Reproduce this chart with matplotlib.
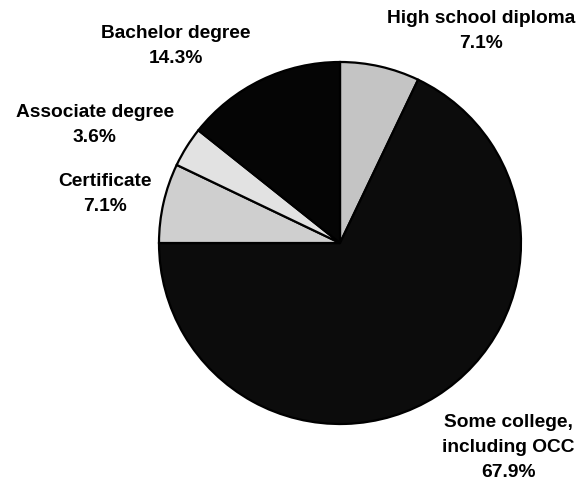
"""Pie chart: highest education level of respondents."""

import matplotlib

matplotlib.use("Agg")
import matplotlib.pyplot as plt

# ---------------------------------------------------------------------------
# Data
# ---------------------------------------------------------------------------
labels = [
    "High school diploma",
    "Some college,\nincluding OCC",
    "Certificate",
    "Associate degree",
    "Bachelor degree",
]
shares = [7.1, 67.9, 7.1, 3.6, 14.3]
colors = ["#c4c4c4", "#0c0c0c", "#cfcfcf", "#e2e2e2", "#050505"]

# label centres in pie-radius units
label_pos = [(0.78, 1.17), (0.93, -1.13), (-1.30, 0.27), (-1.355, 0.65), (-0.905, 1.09)]

plt.rcParams["font.family"] = ["Liberation Sans", "DejaVu Sans"]

fig = plt.figure(figsize=(5.8, 4.82), dpi=100)
ax = fig.add_axes([0, 0, 1, 1])

wedges, _ = ax.pie(
    shares,
    colors=colors,
    startangle=90,
    counterclock=False,
    radius=1.0,
    wedgeprops={"edgecolor": "black", "linewidth": 1.6},
)

for lab, val, (x, y) in zip(labels, shares, label_pos):
    ax.text(
        x, y, f"{lab}\n{val:.1f}%",
        ha="center", va="center",
        fontsize=13.8, fontweight="bold",
        linespacing=1.62,
    )

# centre of pie at (340, 243) px, radius 181 px
ax.set_xlim(-340 / 181, 240 / 181)
ax.set_ylim(-239 / 181, 243 / 181)
ax.set_aspect("auto")
ax.axis("off")

fig.savefig("out.png", dpi=100, facecolor="white")
